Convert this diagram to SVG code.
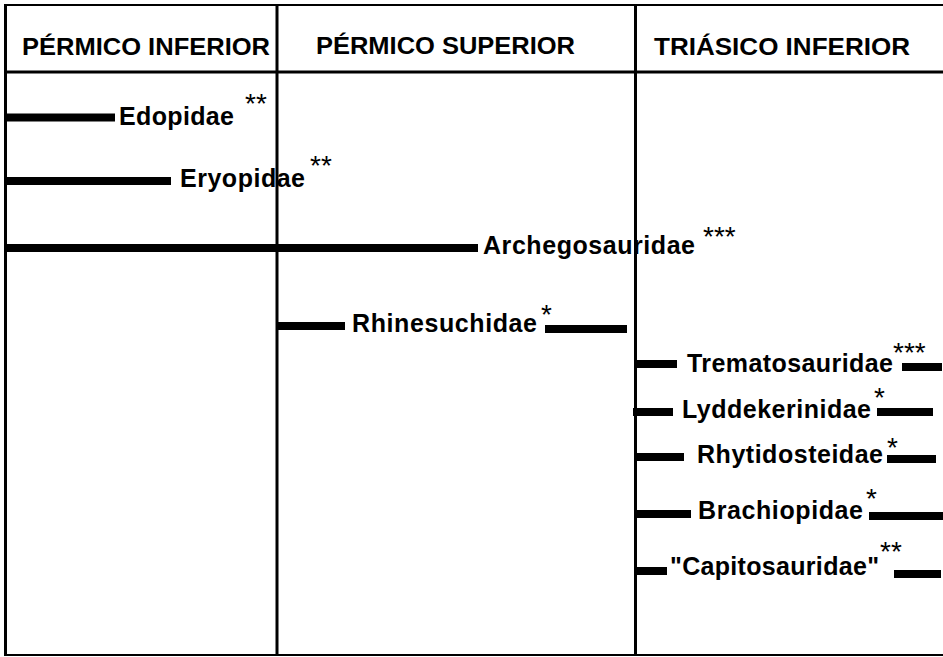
<svg xmlns="http://www.w3.org/2000/svg" width="943" height="657" viewBox="0 0 943 657">
<style>
.grid{stroke:#000;fill:none}
.bar{fill:#000}
.hdr{font-family:"Liberation Sans",Arial,sans-serif;font-size:24.5px;font-weight:bold;fill:#000}
.lbl{font-family:"Liberation Sans",Arial,sans-serif;font-size:25px;font-weight:bold;fill:#000}
.ast{font-family:"Liberation Sans",Arial,sans-serif;font-size:28px;fill:#000}
</style>
<rect width="943" height="657" fill="#fff"/>
<g id="table">
<line class="grid" x1="4" y1="5" x2="943" y2="5" stroke-width="2"/>
<line class="grid" x1="4" y1="72" x2="943" y2="72" stroke-width="3"/>
<line class="grid" x1="4" y1="655" x2="943" y2="655" stroke-width="2"/>
<line class="grid" x1="5.5" y1="4" x2="5.5" y2="656" stroke-width="3"/>
<line class="grid" x1="277" y1="4" x2="277" y2="656" stroke-width="3"/>
<line class="grid" x1="635.5" y1="4" x2="635.5" y2="656" stroke-width="3"/>
<text class="hdr" x="22" y="55" textLength="248" lengthAdjust="spacingAndGlyphs">PÉRMICO INFERIOR</text>
<text class="hdr" x="316" y="54" textLength="259" lengthAdjust="spacingAndGlyphs">PÉRMICO SUPERIOR</text>
<text class="hdr" x="654" y="55" textLength="256" lengthAdjust="spacingAndGlyphs">TRIÁSICO INFERIOR</text>
</g>
<g id="connectors">
<rect class="bar" x="7" y="113.5" width="108" height="8"/>
<rect class="bar" x="7" y="177" width="164" height="8"/>
<rect class="bar" x="7" y="244" width="471" height="8"/>
<rect class="bar" x="278" y="322" width="67" height="8"/>
<rect class="bar" x="545" y="325" width="82" height="8"/>
<rect class="bar" x="637" y="360" width="40" height="8"/>
<rect class="bar" x="902" y="363" width="40" height="8"/>
<rect class="bar" x="633" y="408" width="40" height="8"/>
<rect class="bar" x="877" y="408" width="56" height="8"/>
<rect class="bar" x="637" y="453" width="47" height="8"/>
<rect class="bar" x="887" y="455" width="49" height="8"/>
<rect class="bar" x="637" y="510" width="54" height="8"/>
<rect class="bar" x="869" y="512" width="74" height="8"/>
<rect class="bar" x="637" y="567" width="30" height="8"/>
<rect class="bar" x="894" y="570" width="47" height="8"/>
</g>
<g id="edopidae"><text class="lbl" x="119" y="125" textLength="115" lengthAdjust="spacing">Edopidae</text><text class="ast" x="245" y="113">**</text></g>
<g id="eryopidae"><text class="lbl" x="180" y="187" textLength="125" lengthAdjust="spacing">Eryopidae</text><text class="ast" x="310" y="175">**</text></g>
<g id="archegosauridae"><text class="lbl" x="483" y="254" textLength="212" lengthAdjust="spacing">Archegosauridae</text><text class="ast" x="703" y="246">***</text></g>
<g id="rhinesuchidae"><text class="lbl" x="352" y="332" textLength="185" lengthAdjust="spacing">Rhinesuchidae</text><text class="ast" x="541" y="324">*</text></g>
<g id="trematosauridae"><text class="lbl" x="687" y="372" textLength="206" lengthAdjust="spacing">Trematosauridae</text><text class="ast" x="893" y="362">***</text></g>
<g id="lyddekerinidae"><text class="lbl" x="682" y="418" textLength="189" lengthAdjust="spacing">Lyddekerinidae</text><text class="ast" x="874" y="407">*</text></g>
<g id="rhytidosteidae"><text class="lbl" x="697" y="463" textLength="186" lengthAdjust="spacing">Rhytidosteidae</text><text class="ast" x="887" y="457">*</text></g>
<g id="brachiopidae"><text class="lbl" x="698" y="519" textLength="165" lengthAdjust="spacing">Brachiopidae</text><text class="ast" x="866" y="508">*</text></g>
<g id="capitosauridae"><text class="lbl" x="670" y="575" textLength="209" lengthAdjust="spacing">"Capitosauridae"</text><text class="ast" x="880" y="561">**</text></g>
</svg>
